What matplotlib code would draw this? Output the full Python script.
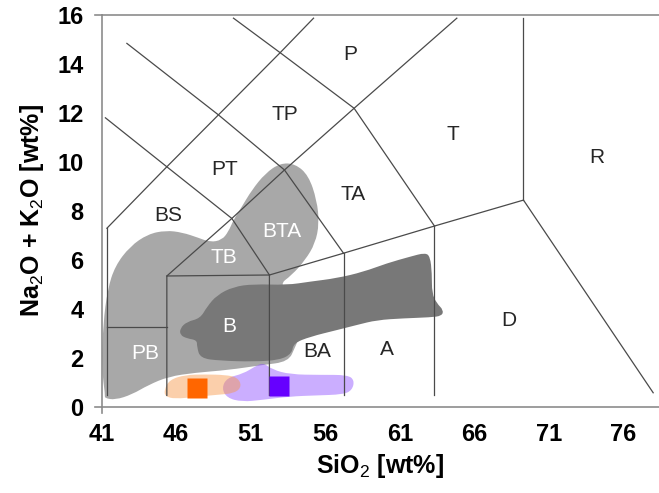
import matplotlib
matplotlib.use("Agg")
import matplotlib.pyplot as plt
from matplotlib.path import Path
from matplotlib.patches import PathPatch

plt.rcParams['font.family'] = ['Liberation Sans', 'DejaVu Sans']
plt.rcParams['mathtext.fontset'] = 'custom'
plt.rcParams['mathtext.rm'] = 'Liberation Sans'
plt.rcParams['mathtext.it'] = 'Liberation Sans'
plt.rcParams['mathtext.bf'] = 'Liberation Sans:bold'

# axis ticks
x_ticks = [41, 46, 51, 56, 61, 66, 71, 76]
y_ticks = [0, 2, 4, 6, 8, 10, 12, 14, 16]

# TAS field boundaries (SiO2, Na2O+K2O)
field_lines = [
    ([41.35, 41.35], [0.46, 7.29]),
    ([41.35, 45.37, 48.83, 52.97, 55.21], [7.29, 9.80, 11.92, 14.46, 15.87]),
    ([45.37, 49.73, 53.26, 57.93, 64.82], [5.34, 7.69, 9.67, 12.19, 15.87]),
    ([41.25, 45.37, 49.73, 52.25], [11.80, 9.80, 7.69, 5.38]),
    ([42.69, 48.83, 53.26, 57.22], [14.84, 11.92, 9.67, 6.27]),
    ([49.84, 52.97, 57.93, 63.32], [15.87, 14.46, 12.19, 7.38]),
    ([52.25, 57.22, 63.32, 69.29, 77.99], [5.38, 6.27, 7.38, 8.44, 0.57]),
    ([69.29, 69.29], [8.44, 15.87]),
    ([45.37, 45.37, 52.25, 52.25], [0.46, 5.34, 5.38, 0.46]),
    ([41.35, 45.37], [3.27, 3.27]),
    ([57.22, 57.22], [0.46, 6.27]),
    ([63.32, 63.32], [0.46, 7.38]),
]

field_names = ['P', 'TP', 'PT', 'BS', 'BTA', 'TB', 'TA', 'T', 'R', 'B', 'PB', 'BA', 'A', 'D']
field_x = [57.68, 53.31, 49.22, 45.46, 53.11, 49.22, 57.87, 64.57, 74.23, 49.55, 43.92, 55.45, 60.15, 68.33]
field_y = [14.37, 11.92, 9.67, 7.83, 7.14, 6.08, 8.65, 11.10, 10.16, 3.26, 2.19, 2.24, 2.32, 3.54]
field_white = ['BTA', 'TB', 'B', 'PB']

# light grey envelope
grey_x = [41.23, 41.00, 41.10, 41.40, 41.90, 42.90, 44.10, 45.30, 46.40, 47.49, 48.28, 49.06,
          49.50, 49.84, 50.40, 51.07, 51.97, 52.97, 53.98, 54.87, 55.43, 55.59, 55.32, 54.65,
          53.76, 52.86, 54.31, 54.18, 53.98, 53.53, 51.74, 49.50, 47.27, 45.48, 44.14, 43.03,
          41.91, 41.20]
grey_y = [0.48, 1.60, 3.40, 4.80, 5.75, 6.55, 7.05, 7.20, 7.12, 6.90, 6.72, 6.81,
          7.15, 7.63, 8.17, 8.85, 9.53, 9.95, 9.92, 9.45, 8.44, 7.49, 6.67, 5.99,
          5.38, 4.97, 4.36, 2.72, 2.45, 1.84, 1.70, 1.50, 1.39, 1.23, 0.89, 0.50,
          0.28, 0.35]

# dark grey envelope
dark_x = [46.26, 46.71, 47.61, 48.06, 48.73, 49.84, 51.18, 53.42, 54.98, 56.77, 58.56, 60.13,
          61.69, 62.70, 63.03, 63.15, 63.15, 63.48, 63.92, 63.82, 63.03, 61.24, 59.46, 58.12,
          56.77, 54.98, 53.86, 53.76, 52.97, 51.18, 48.95, 47.61, 47.39, 47.39, 46.71, 46.26]
dark_y = [3.20, 3.47, 3.61, 4.08, 4.56, 4.90, 5.01, 4.97, 5.11, 5.25, 5.51, 5.86,
          6.13, 6.29, 6.13, 5.45, 4.63, 4.22, 3.95, 3.71, 3.65, 3.61, 3.54, 3.34,
          3.13, 2.86, 2.59, 2.18, 1.91, 1.84, 1.88, 1.98, 2.45, 2.72, 2.79, 2.93]

# sample ranges and averages
orange_x = [45.20, 45.55, 46.60, 47.94, 49.28, 50.10, 50.40, 49.95, 48.61, 47.27, 45.93, 45.25]
orange_y = [0.70, 1.10, 1.30, 1.32, 1.30, 1.20, 0.85, 0.55, 0.48, 0.40, 0.32, 0.42]
purple_x = [49.05, 49.40, 50.49, 51.30, 51.83, 52.44, 53.64, 55.66, 57.50, 57.95, 57.80, 57.20,
            55.32, 53.64, 51.77, 50.42, 49.40]
purple_y = [0.76, 1.18, 1.35, 1.65, 1.80, 1.52, 1.32, 1.30, 1.30, 1.08, 0.68, 0.50,
            0.46, 0.42, 0.28, 0.20, 0.36]
sample_x = [47.40, 52.92]
sample_y = [0.78, 0.85]
sample_colors = ['#ff6600', '#6600ff']


def blob(xs, ys, **kw):
    # closed smooth outline: quadratic curves through the midpoints
    n = len(xs)
    pts = list(zip(xs, ys))
    mid = [((pts[i][0] + pts[(i + 1) % n][0]) / 2, (pts[i][1] + pts[(i + 1) % n][1]) / 2) for i in range(n)]
    verts = [mid[-1]]
    codes = [Path.MOVETO]
    for i in range(n):
        verts += [pts[i], mid[i]]
        codes += [Path.CURVE3, Path.CURVE3]
    verts.append(mid[-1])
    codes.append(Path.CLOSEPOLY)
    return PathPatch(Path(verts, codes), **kw)


fig = plt.figure(figsize=(6.59, 4.93), dpi=100)
ax = fig.add_axes([0.1543, 0.175, 0.8457, 0.7946])
x_max = 78.38
ax.set_xlim(41, x_max)
ax.set_ylim(0, 16)

ax.add_patch(blob(grey_x, grey_y, facecolor='#a8a8a8', edgecolor='none', zorder=1))
ax.add_patch(blob(dark_x, dark_y, facecolor='#787878', edgecolor='none', zorder=2))
ax.add_patch(blob(purple_x, purple_y, facecolor='#8c4dff', alpha=0.45, edgecolor='none', zorder=3))
ax.add_patch(blob(orange_x, orange_y, facecolor='#f79646', alpha=0.45, edgecolor='none', zorder=3))

for xs, ys in field_lines:
    ax.plot(xs, ys, color='#4a4a4a', linewidth=0.9, zorder=4)

for c, sx, sy in zip(sample_colors, sample_x, sample_y):
    ax.plot(sx, sy, marker='s', markersize=15, color=c, markeredgecolor='none', zorder=5)

for name, fx, fy in zip(field_names, field_x, field_y):
    col = 'white' if name in field_white else '#262626'
    ax.text(fx, fy, name, fontsize=15, color=col, ha='center', va='center', zorder=6)

# axes frame: left, bottom and top lines with small overhangs
ax.spines['right'].set_visible(False)
for s in ['left', 'bottom', 'top']:
    ax.spines[s].set_color('#8c8c8c')
    ax.spines[s].set_linewidth(1.2)
ax.plot([40.53, 41], [0, 0], color='#8c8c8c', linewidth=1.2, clip_on=False)
ax.plot([40.53, 41], [16, 16], color='#8c8c8c', linewidth=1.2, clip_on=False)
ax.plot([41, 41], [-0.26, 0], color='#8c8c8c', linewidth=1.2, clip_on=False)

ax.set_xticks(x_ticks)
ax.set_yticks(y_ticks)
ax.tick_params(length=0, labelsize=17)
ax.tick_params(axis='x', pad=12)
ax.tick_params(axis='y', pad=13)
for lbl in ax.get_xticklabels() + ax.get_yticklabels():
    lbl.set_fontweight('bold')

ax.set_xlabel('SiO$_2$ [wt%]', fontsize=18, fontweight='bold', labelpad=4)
ax.set_ylabel('Na$_2$O + K$_2$O [wt%]', fontsize=18, fontweight='bold', labelpad=8)

fig.savefig('out.png', dpi=100)
